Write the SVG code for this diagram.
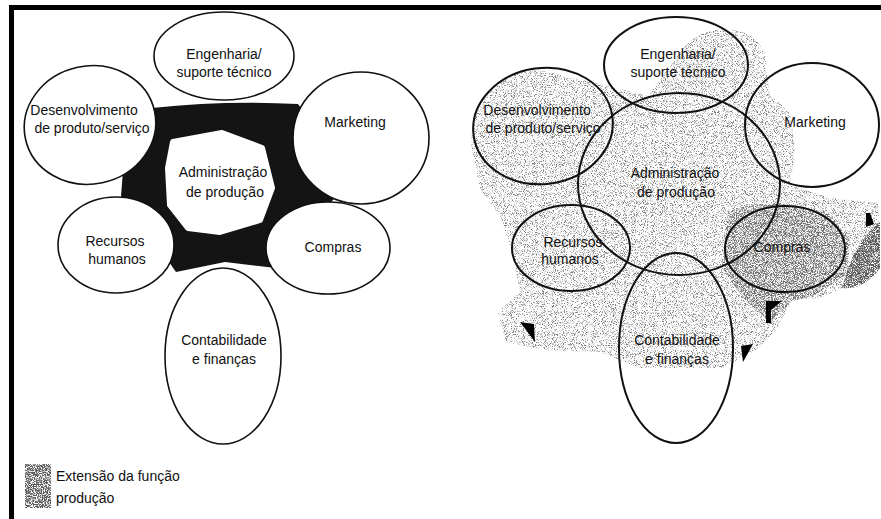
<svg xmlns="http://www.w3.org/2000/svg" width="881" height="519" viewBox="0 0 881 519">
  <style>
    .lbl { font-family: "Liberation Sans", Arial, sans-serif; font-size: 14px; fill: #111; text-anchor: middle; }
    .leg { font-family: "Liberation Sans", Arial, sans-serif; font-size: 14px; fill: #111; }
    .ovL { fill: #fff; stroke: #111; stroke-width: 1.6; }
    .ovR { fill: none; stroke: #111; stroke-width: 2; }
    .mark { fill: #000; }
  </style>
  <defs>
    <filter id="grainLight" x="-5%" y="-5%" width="110%" height="110%">
      <feTurbulence type="fractalNoise" baseFrequency="1.1" numOctaves="2" seed="7" result="noise"/>
      <feColorMatrix in="noise" type="matrix" values="0 0 0 0 0.2  0 0 0 0 0.2  0 0 0 0 0.2  5 0 0 0 -2.55" result="dots"/>
      <feComposite in="dots" in2="SourceGraphic" operator="in"/>
    </filter>
    <filter id="grainMid" x="-5%" y="-5%" width="110%" height="110%">
      <feTurbulence type="fractalNoise" baseFrequency="1.1" numOctaves="2" seed="5" result="noise"/>
      <feColorMatrix in="noise" type="matrix" values="0 0 0 0 0.15  0 0 0 0 0.15  0 0 0 0 0.15  5 0 0 0 -2.2" result="dots"/>
      <feComposite in="dots" in2="SourceGraphic" operator="in"/>
    </filter>
    <filter id="grainDark" x="-5%" y="-5%" width="110%" height="110%">
      <feTurbulence type="fractalNoise" baseFrequency="1.1" numOctaves="2" seed="11" result="noise"/>
      <feColorMatrix in="noise" type="matrix" values="0 0 0 0 0.1  0 0 0 0 0.1  0 0 0 0 0.1  5 0 0 0 -1.8" result="dots"/>
      <feComposite in="dots" in2="SourceGraphic" operator="in"/>
    </filter>
  </defs>

  <rect x="0" y="0" width="881" height="519" fill="#fff"/>

  <!-- frame -->
  <g id="frame">
    <rect x="9" y="5" width="872" height="5" fill="#000"/>
    <rect x="9" y="5" width="5" height="514" fill="#000"/>
  </g>

  <!-- LEFT DIAGRAM -->
  <g id="left-extension">
    <path d="M152,108 Q225,100 298,104 L332,150 L336,196 L302,240 L276,268 L225,262 L176,272 L148,232 L121,196 L124,158 Z" fill="#141414"/>
  </g>
  <g id="L-engenharia">
    <ellipse class="ovL" cx="224" cy="56" rx="70" ry="44"/>
    <text class="lbl" x="224" y="59">Engenharia/</text>
    <text class="lbl" x="224" y="77">suporte técnico</text>
  </g>
  <g id="L-desenvolvimento">
    <ellipse class="ovL" cx="90" cy="125" rx="66" ry="59" transform="rotate(-12 90 125)"/>
    <text class="lbl" x="84" y="115">Desenvolvimento</text>
    <text class="lbl" x="92" y="133">de produto/serviço</text>
  </g>
  <g id="L-marketing">
    <ellipse class="ovL" cx="361" cy="138" rx="68" ry="66"/>
    <text class="lbl" x="355" y="127">Marketing</text>
  </g>
  <g id="L-recursos">
    <ellipse class="ovL" cx="116" cy="245" rx="58" ry="48"/>
    <text class="lbl" x="115" y="246">Recursos</text>
    <text class="lbl" x="117" y="264">humanos</text>
  </g>
  <g id="L-compras">
    <ellipse class="ovL" cx="328" cy="248" rx="62" ry="46"/>
    <text class="lbl" x="333" y="252">Compras</text>
  </g>
  <g id="L-contabilidade">
    <ellipse class="ovL" cx="223" cy="356" rx="58" ry="88"/>
    <text class="lbl" x="224" y="345">Contabilidade</text>
    <text class="lbl" x="224" y="364">e finanças</text>
  </g>
  <g id="L-administracao">
    <path d="M173,142 L222,133 L262,148 L272,188 L260,220 L220,232 L188,228 L170,205 L168,168 Z" fill="#fff" stroke="#fff" stroke-width="6" stroke-linejoin="round"/>
    <text class="lbl" x="223" y="177">Administração</text>
    <text class="lbl" x="225" y="197">de produção</text>
  </g>

  <!-- legend -->
  <g id="legend">
    <rect x="25" y="464" width="26" height="44" fill="#fff"/>
    <rect x="25" y="464" width="26" height="44" fill="#666" filter="url(#grainDark)"/>
    <text class="leg" x="56" y="481">Extensão da função</text>
    <text class="leg" x="56" y="503">produção</text>
  </g>

  <!-- RIGHT DIAGRAM -->
  <g id="right-extension">
    <path d="M472,150 C468,110 492,80 530,68 L600,84 L648,96 L688,42 C715,22 755,25 765,55 L770,95 L790,112 L795,150 L790,185 L830,198 L878,203 L880,240 L860,280 L820,298 L792,300 L776,330 L756,350 L722,368 L640,368 L600,352 L545,350 L505,342 L498,312 L520,292 L512,252 L500,215 L480,190 Z" fill="#999" filter="url(#grainLight)"/>
    <path d="M728,212 C760,198 800,204 830,214 L850,240 L845,275 L815,295 L790,302 L770,322 L745,300 L722,268 Z" fill="#666" filter="url(#grainMid)"/>
    <path d="M842,288 C848,262 862,236 880,222 L880,268 C870,282 856,290 842,288 Z" fill="#555" filter="url(#grainDark)"/>
    <polygon class="mark" points="520,322 534,324 535,342"/>
    <polygon class="mark" points="766,301 782,301 771,310 771,323 766,323"/>
    <polygon class="mark" points="741,346 753,344 743,362"/>
    <polygon class="mark" points="866,213 870,213 874,224 866,227"/>
  </g>
  <g id="R-administracao">
    <ellipse class="ovR" cx="679" cy="184" rx="101" ry="91"/>
    <text class="lbl" x="675" y="178">Administração</text>
    <text class="lbl" x="676" y="197">de produção</text>
  </g>
  <g id="R-engenharia">
    <ellipse class="ovR" cx="676" cy="65" rx="72" ry="48"/>
    <text class="lbl" x="678" y="59">Engenharia/</text>
    <text class="lbl" x="678" y="77">suporte técnico</text>
  </g>
  <g id="R-desenvolvimento">
    <ellipse class="ovR" cx="543" cy="126" rx="70" ry="58" transform="rotate(-8 543 126)"/>
    <text class="lbl" x="537" y="115">Desenvolvimento</text>
    <text class="lbl" x="543" y="133">de produto/serviço</text>
  </g>
  <g id="R-marketing">
    <ellipse class="ovR" cx="812" cy="125" rx="67" ry="62"/>
    <text class="lbl" x="815" y="127">Marketing</text>
  </g>
  <g id="R-recursos">
    <ellipse class="ovR" cx="571" cy="248" rx="59" ry="43"/>
    <text class="lbl" x="573" y="247">Recursos</text>
    <text class="lbl" x="570" y="264">humanos</text>
  </g>
  <g id="R-compras">
    <ellipse class="ovR" cx="785" cy="249" rx="60" ry="43"/>
    <text class="lbl" x="782" y="252">Compras</text>
  </g>
  <g id="R-contabilidade">
    <ellipse class="ovR" cx="676" cy="348" rx="57" ry="95"/>
    <text class="lbl" x="677" y="345">Contabilidade</text>
    <text class="lbl" x="677" y="364">e finanças</text>
  </g>

  <g id="connectors"/>
</svg>
